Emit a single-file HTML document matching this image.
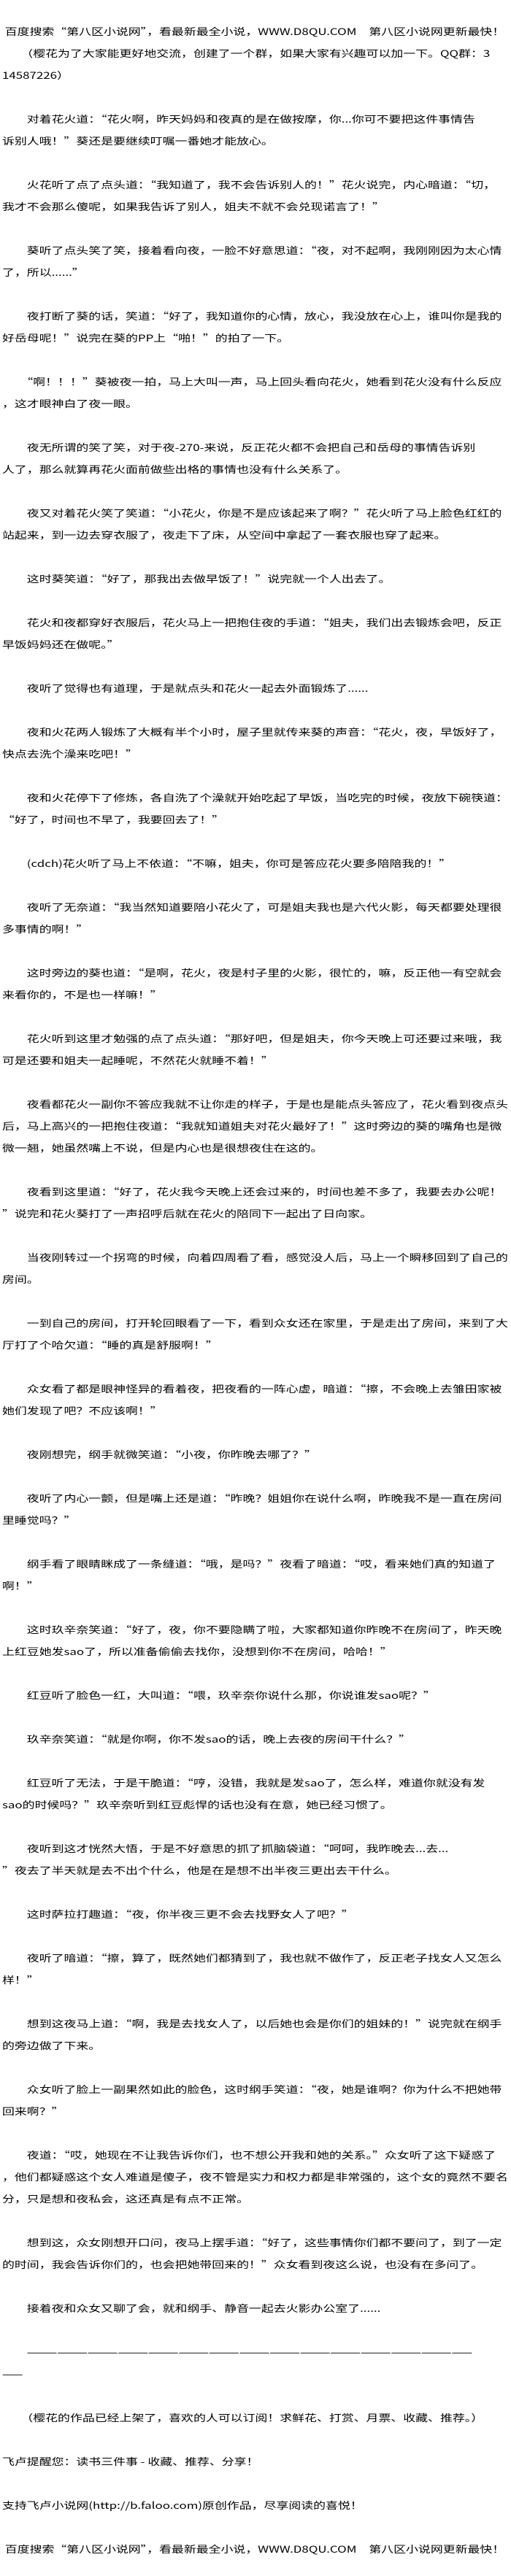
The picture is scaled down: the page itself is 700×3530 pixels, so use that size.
<!DOCTYPE html>
<html><head><meta charset="utf-8">
<style>
html,body{margin:0;padding:0;background:#fff;}
body{width:700px;height:3530px;overflow:hidden;position:relative;}
#t{position:absolute;left:3px;top:28px;width:530px;transform:scaleX(1.30);transform-origin:0 0;
font-family:"Noto Sans CJK SC","WenQuanYi Zen Hei",sans-serif;font-size:13px;color:#000;}
#t div{height:30px;line-height:30px;white-space:nowrap;}
</style></head><body>
<div id="t">
<div>&nbsp;百度搜索“第八区小说网”，看最新最全小说，WWW.D8QU.COM　第八区小说网更新最快！</div>
<div>　　（樱花为了大家能更好地交流，创建了一个群，如果大家有兴趣可以加一下。QQ群：3</div>
<div>14587226）</div>
<div></div>
<div>　　对着花火道：“花火啊，昨天妈妈和夜真的是在做按摩，你...你可不要把这件事情告</div>
<div>诉别人哦！”葵还是要继续叮嘱一番她才能放心。</div>
<div></div>
<div>　　火花听了点了点头道：“我知道了，我不会告诉别人的！”花火说完，内心暗道：“切，</div>
<div>我才不会那么傻呢，如果我告诉了别人，姐夫不就不会兑现诺言了！”</div>
<div></div>
<div>　　葵听了点头笑了笑，接着看向夜，一脸不好意思道：“夜，对不起啊，我刚刚因为太心情</div>
<div>了，所以......”</div>
<div></div>
<div>　　夜打断了葵的话，笑道：“好了，我知道你的心情，放心，我没放在心上，谁叫你是我的</div>
<div>好岳母呢！”说完在葵的PP上“啪！”的拍了一下。</div>
<div></div>
<div>　　“啊！！！”葵被夜一拍，马上大叫一声，马上回头看向花火，她看到花火没有什么反应</div>
<div>，这才眼神白了夜一眼。</div>
<div></div>
<div>　　夜无所谓的笑了笑，对于夜-270-来说，反正花火都不会把自己和岳母的事情告诉别</div>
<div>人了，那么就算再花火面前做些出格的事情也没有什么关系了。</div>
<div></div>
<div>　　夜又对着花火笑了笑道：“小花火，你是不是应该起来了啊？”花火听了马上脸色红红的</div>
<div>站起来，到一边去穿衣服了，夜走下了床，从空间中拿起了一套衣服也穿了起来。</div>
<div></div>
<div>　　这时葵笑道：“好了，那我出去做早饭了！”说完就一个人出去了。</div>
<div></div>
<div>　　花火和夜都穿好衣服后，花火马上一把抱住夜的手道：“姐夫，我们出去锻炼会吧，反正</div>
<div>早饭妈妈还在做呢。”</div>
<div></div>
<div>　　夜听了觉得也有道理，于是就点头和花火一起去外面锻炼了......</div>
<div></div>
<div>　　夜和火花两人锻炼了大概有半个小时，屋子里就传来葵的声音：“花火，夜，早饭好了，</div>
<div>快点去洗个澡来吃吧！”</div>
<div></div>
<div>　　夜和火花停下了修炼，各自洗了个澡就开始吃起了早饭，当吃完的时候，夜放下碗筷道：</div>
<div>“好了，时间也不早了，我要回去了！”</div>
<div></div>
<div>　　(cdch)花火听了马上不依道：“不嘛，姐夫，你可是答应花火要多陪陪我的！”</div>
<div></div>
<div>　　夜听了无奈道：“我当然知道要陪小花火了，可是姐夫我也是六代火影，每天都要处理很</div>
<div>多事情的啊！”</div>
<div></div>
<div>　　这时旁边的葵也道：“是啊，花火，夜是村子里的火影，很忙的，嘛，反正他一有空就会</div>
<div>来看你的，不是也一样嘛！”</div>
<div></div>
<div>　　花火听到这里才勉强的点了点头道：“那好吧，但是姐夫，你今天晚上可还要过来哦，我</div>
<div>可是还要和姐夫一起睡呢，不然花火就睡不着！”</div>
<div></div>
<div>　　夜看都花火一副你不答应我就不让你走的样子，于是也是能点头答应了，花火看到夜点头</div>
<div>后，马上高兴的一把抱住夜道：“我就知道姐夫对花火最好了！”这时旁边的葵的嘴角也是微</div>
<div>微一翘，她虽然嘴上不说，但是内心也是很想夜住在这的。</div>
<div></div>
<div>　　夜看到这里道：“好了，花火我今天晚上还会过来的，时间也差不多了，我要去办公呢！</div>
<div>”说完和花火葵打了一声招呼后就在花火的陪同下一起出了日向家。</div>
<div></div>
<div>　　当夜刚转过一个拐弯的时候，向着四周看了看，感觉没人后，马上一个瞬移回到了自己的</div>
<div>房间。</div>
<div></div>
<div>　　一到自己的房间，打开轮回眼看了一下，看到众女还在家里，于是走出了房间，来到了大</div>
<div>厅打了个哈欠道：“睡的真是舒服啊！”</div>
<div></div>
<div>　　众女看了都是眼神怪异的看着夜，把夜看的一阵心虚，暗道：“擦，不会晚上去雏田家被</div>
<div>她们发现了吧？不应该啊！”</div>
<div></div>
<div>　　夜刚想完，纲手就微笑道：“小夜，你昨晚去哪了？”</div>
<div></div>
<div>　　夜听了内心一颤，但是嘴上还是道：“昨晚？姐姐你在说什么啊，昨晚我不是一直在房间</div>
<div>里睡觉吗？”</div>
<div></div>
<div>　　纲手看了眼睛眯成了一条缝道：“哦，是吗？”夜看了暗道：“哎，看来她们真的知道了</div>
<div>啊！”</div>
<div></div>
<div>　　这时玖辛奈笑道：“好了，夜，你不要隐瞒了啦，大家都知道你昨晚不在房间了，昨天晚</div>
<div>上红豆她发sao了，所以准备偷偷去找你，没想到你不在房间，哈哈！”</div>
<div></div>
<div>　　红豆听了脸色一红，大叫道：“喂，玖辛奈你说什么那，你说谁发sao呢？”</div>
<div></div>
<div>　　玖辛奈笑道：“就是你啊，你不发sao的话，晚上去夜的房间干什么？”</div>
<div></div>
<div>　　红豆听了无法，于是干脆道：“哼，没错，我就是发sao了，怎么样，难道你就没有发</div>
<div>sao的时候吗？”玖辛奈听到红豆彪悍的话也没有在意，她已经习惯了。</div>
<div></div>
<div>　　夜听到这才恍然大悟，于是不好意思的抓了抓脑袋道：“呵呵，我昨晚去...去...</div>
<div>”夜去了半天就是去不出个什么，他是在是想不出半夜三更出去干什么。</div>
<div></div>
<div>　　这时萨拉打趣道：“夜，你半夜三更不会去找野女人了吧？”</div>
<div></div>
<div>　　夜听了暗道：“擦，算了，既然她们都猜到了，我也就不做作了，反正老子找女人又怎么</div>
<div>样！”</div>
<div></div>
<div>　　想到这夜马上道：“啊，我是去找女人了，以后她也会是你们的姐妹的！”说完就在纲手</div>
<div>的旁边做了下来。</div>
<div></div>
<div>　　众女听了脸上一副果然如此的脸色，这时纲手笑道：“夜，她是谁啊？你为什么不把她带</div>
<div>回来啊？”</div>
<div></div>
<div>　　夜道：“哎，她现在不让我告诉你们，也不想公开我和她的关系。”众女听了这下疑惑了</div>
<div>，他们都疑惑这个女人难道是傻子，夜不管是实力和权力都是非常强的，这个女的竟然不要名</div>
<div>分，只是想和夜私会，这还真是有点不正常。</div>
<div></div>
<div>　　想到这，众女刚想开口问，夜马上摆手道：“好了，这些事情你们都不要问了，到了一定</div>
<div>的时间，我会告诉你们的，也会把她带回来的！”众女看到夜这么说，也没有在多问了。</div>
<div></div>
<div>　　接着夜和众女又聊了会，就和纲手、静音一起去火影办公室了......</div>
<div></div>
<div>　　————————————————————————————————————————————</div>
<div>——</div>
<div></div>
<div>　　（樱花的作品已经上架了，喜欢的人可以订阅！求鲜花、打赏、月票、收藏、推荐。）</div>
<div></div>
<div>飞卢提醒您：读书三件事 - 收藏、推荐、分享！</div>
<div></div>
<div>支持飞卢小说网(http://b.faloo.com)原创作品，尽享阅读的喜悦！</div>
<div></div>
<div>&nbsp;百度搜索“第八区小说网”，看最新最全小说，WWW.D8QU.COM　第八区小说网更新最快！</div>
</div>
</body></html>
